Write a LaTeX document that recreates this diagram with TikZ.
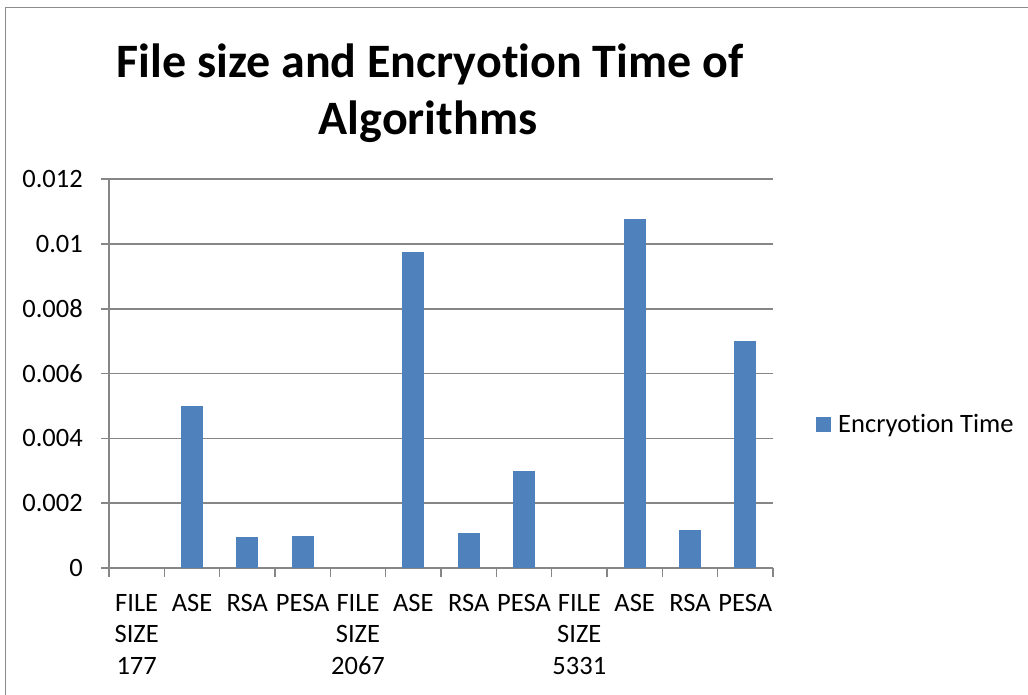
\documentclass[tikz,border=0pt]{standalone}
\usepackage{fontspec}
\setmainfont{Carlito}[Ligatures=NoCommon]
\definecolor{barblue}{RGB}{79,129,189}
\definecolor{gridgray}{RGB}{134,134,134}
\definecolor{framegray}{RGB}{140,140,140}
\begin{document}
\begin{tikzpicture}[x=1pt,y=-1pt,
 grid line/.style={draw=gridgray,line width=1.6pt},
 bar/.style={fill=barblue,draw=none},
 tick label/.style={font=\fontsize{26.5}{32}\selectfont,inner sep=0pt},
 cat label/.style={font=\fontsize{26.5}{31.5}\selectfont,inner sep=0pt,align=center,anchor=north},
 title node/.style={font=\fontsize{48}{56}\selectfont\bfseries,inner sep=0pt,anchor=base}]
\useasboundingbox (0,0) rectangle (1028,695);
\fill[white] (0,0) rectangle (1028,695);
% chart frame (only top and left edges are visible)
\draw[framegray,line width=1.5pt] (5.5,700) -- (5.5,7.5) -- (1035,7.5);

% title
\node[title node] (t1) at (430,78) {File size and Encryotion Time of};
\node[title node] (t2) at (428,135) {Algorithms};

% gridlines and value labels
\foreach \v/\lab in {0/0,1/0.002,2/0.004,3/0.006,4/0.008,5/0.01,6/0.012} {
  \draw[grid line] (101,568-64.8*\v) -- (773,568-64.8*\v);
  \node[tick label,anchor=east] (y\v) at (83,568-64.8*\v) {\lab};
}
% axes
\coordinate (o) at (109,568);
\coordinate (xend) at (773,568);
\coordinate (ytop) at (109,179);
\draw[grid line] (o) -- (ytop);
\draw[grid line] (o) -- (xend);
\foreach \k in {0,...,12}
  \draw[grid line] (109+55.333*\k,568) -- (109+55.333*\k,577);

% bars (values in units of 0.001)
\foreach \i/\val in {2/5,3/0.97,4/1.0,6/9.75,7/1.07,8/3.0,10/10.78,11/1.17,12/7.0} {
  \path[bar] (109+55.333*\i-55.333/2-11,568) rectangle (109+55.333*\i-55.333/2+11,568-32.4*\val);
}

% category labels
\node[cat label] (c1) at (136.7,594) {FILE\\SIZE\\177};
\node[cat label] (c2) at (192.0,594) {ASE};
\node[cat label] (c3) at (247.3,594) {RSA};
\node[cat label] (c4) at (302.7,594) {PESA};
\node[cat label] (c5) at (358.0,594) {FILE\\SIZE\\2067};
\node[cat label] (c6) at (413.3,594) {ASE};
\node[cat label] (c7) at (468.7,594) {RSA};
\node[cat label] (c8) at (524.0,594) {PESA};
\node[cat label] (c9) at (579.3,594) {FILE\\SIZE\\5331};
\node[cat label] (c10) at (634.7,594) {ASE};
\node[cat label] (c11) at (690.0,594) {RSA};
\node[cat label] (c12) at (745.3,594) {PESA};

% legend
\node[bar,minimum size=15pt,inner sep=0pt] (key) at (823.5,424.5) {};
\node[tick label,anchor=base west] (keytext) at (838,432) {Encryotion Time};
\end{tikzpicture}
\end{document}
